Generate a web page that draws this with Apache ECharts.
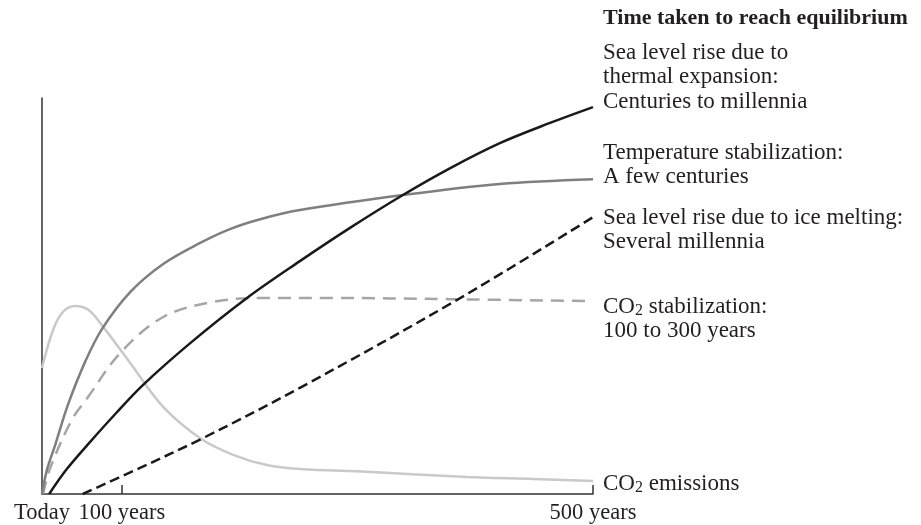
<!DOCTYPE html>
<html>
<head>
<meta charset="utf-8">
<script src="https://cdn.jsdelivr.net/npm/echarts@6/dist/echarts.min.js"></script>
<style>
html,body{margin:0;padding:0;background:#fff;}
#chart{width:921px;height:525px;}
</style>
</head>
<body>
<div id="chart"></div>
<script>
// Schematic x position (0 = today, 100 = 500 years; axis is not to scale)
var xTickValues = [0, 14.5, 100];
var xTickLabels = ['Today', '100 years', '500 years'];

// Sea level rise due to thermal expansion
var thermalX = [1.3, 4.5, 8.7, 13.3, 18.3, 26.9, 37.2, 46.8, 55.9, 65.5, 74.1, 83.1, 92.2, 100];
var thermalY = [0, 6.3, 13.1, 20.2, 27.5, 38.1, 49.5, 58.8, 67.2, 75.5, 82.3, 88.6, 93.7, 97.7];

// Temperature stabilization
var tempX = [0, 0.9, 2.4, 4.7, 7.8, 10.9, 16.0, 22.0, 28.7, 34.1, 39.6, 46.8, 65.5, 83.1, 100];
var tempY = [0, 6.1, 12.4, 22.5, 33.3, 41.7, 51.0, 58.1, 63.4, 66.9, 69.4, 71.7, 75.5, 78.3, 79.5];

// Sea level rise due to ice melting
var iceX = [7.4, 17.8, 29.2, 46.8, 75.3, 100];
var iceY = [0, 6.6, 14.1, 26.8, 49.0, 69.9];

// CO2 stabilization
var co2StabX = [0.2, 1.5, 5.4, 8.2, 14.2, 22.0, 31.0, 40.1, 52.3, 74.0, 100];
var co2StabY = [0, 6.6, 18.7, 24.2, 35.6, 44.7, 48.5, 49.5, 49.5, 49.2, 48.7];

// CO2 emissions
var co2EmX = [0, 2.0, 3.8, 6.0, 8.4, 11.1, 16.0, 22.0, 28.7, 34.7, 40.8, 46.8, 59.0, 77.1, 89.1, 100];
var co2EmY = [31.8, 41.4, 46.0, 47.5, 46.5, 42.2, 33.1, 22.0, 14.1, 9.9, 7.3, 6.3, 5.6, 4.3, 3.8, 3.3];

var titleText = 'Time taken to reach equilibrium';
var labelThermal = ['Sea level rise due to', 'thermal expansion:', 'Centuries to millennia'];
var labelTemp = ['Temperature stabilization:', 'A few centuries'];
var labelIce = ['Sea level rise due to ice melting:', 'Several millennia'];
var labelCo2Stab = ['{n|CO}{s|2}{n| stabilization:}', '{n|100 to 300 years}'];
var labelCo2Em = ['{n|CO}{s|2}{n| emissions}'];

function zip(xs, ys) { return xs.map(function (x, i) { return [x, ys[i]]; }); }

var FONT = "'Liberation Serif', 'DejaVu Serif', serif";
var TXT = '#231f20';
var FS = 23;
var LH = 24.5;

var rich = {
  n: { fontFamily: FONT, fontSize: FS, lineHeight: LH, color: TXT },
  s: { fontFamily: FONT, fontSize: 16, lineHeight: 13, color: TXT, verticalAlign: 'bottom' }
};

function plainLines(arr) { return arr.map(function (l) { return '{n|' + l + '}'; }).join('\n'); }

function label(textStr, left, top) {
  return {
    type: 'text', left: left, top: top, silent: true,
    style: { text: textStr, rich: rich, fill: TXT, font: FS + 'px ' + FONT }
  };
}

var chart = echarts.init(document.getElementById('chart'), null, { renderer: 'canvas' });

var lineBase = { type: 'line', smooth: 0.35, showSymbol: false, silent: true };

var option = {
  backgroundColor: '#ffffff',
  animation: false,
  grid: { left: 42, right: 328, top: 98, bottom: 31 },
  xAxis: {
    type: 'value', min: 0, max: 100,
    axisLine: { show: true, lineStyle: { color: '#333', width: 1.5 } },
    axisTick: { show: true, inside: true, length: 9, customValues: [xTickValues[1], xTickValues[2]], lineStyle: { color: '#333', width: 1.5 } },
    axisLabel: {
      show: true, customValues: xTickValues, margin: 8,
      fontFamily: FONT, fontSize: 22.5, color: TXT,
      formatter: function (v) { var i = xTickValues.indexOf(v); return i >= 0 ? xTickLabels[i] : ''; }
    },
    splitLine: { show: false }
  },
  yAxis: {
    type: 'value', min: 0, max: 100,
    axisLine: { show: true, lineStyle: { color: '#333', width: 1.5 } },
    axisTick: { show: false }, axisLabel: { show: false }, splitLine: { show: false }
  },
  series: [
    Object.assign({}, lineBase, { name: 'CO2 emissions', data: zip(co2EmX, co2EmY),
      lineStyle: { color: '#c9c9c9', width: 2.5 } }),
    Object.assign({}, lineBase, { name: 'CO2 stabilization', data: zip(co2StabX, co2StabY),
      lineStyle: { color: '#a6a6a6', width: 2.5, type: [13, 8] } }),
    Object.assign({}, lineBase, { name: 'Temperature stabilization', data: zip(tempX, tempY),
      lineStyle: { color: '#7f7f7f', width: 2.5 } }),
    Object.assign({}, lineBase, { name: 'Sea level rise due to ice melting', data: zip(iceX, iceY),
      lineStyle: { color: '#1a1a1a', width: 2.5, type: [10, 5] } }),
    Object.assign({}, lineBase, { name: 'Sea level rise due to thermal expansion', data: zip(thermalX, thermalY),
      lineStyle: { color: '#1a1a1a', width: 2.5 } })
  ],
  graphic: [
    { type: 'text', left: 603, top: 7, silent: true,
      style: { text: titleText, fill: TXT, font: 'bold 22px ' + FONT } },
    label(plainLines(labelThermal), 603, 41),
    label(plainLines(labelTemp), 603, 141),
    label(plainLines(labelIce), 603, 206),
    label(labelCo2Stab.join('\n'), 603, 295),
    label(labelCo2Em.join('\n'), 603, 472)
  ]
};
chart.setOption(option);
</script>
</body>
</html>
